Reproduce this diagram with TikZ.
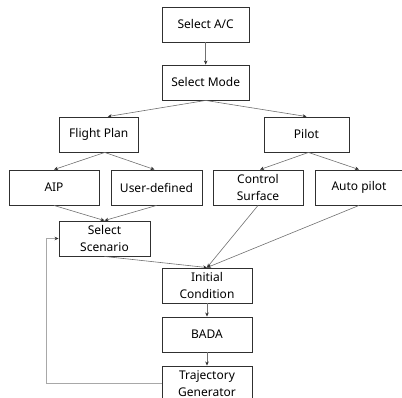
\documentclass[tikz,border=0pt]{standalone}
\usepackage{fontspec}
\setmainfont{Noto Sans}
\usetikzlibrary{arrows.meta,calc}
\definecolor{boxc}{HTML}{303030}
\definecolor{arrc}{HTML}{707070}
\definecolor{fbc}{HTML}{A8A8A8}
\begin{document}
\begin{tikzpicture}[x=1pt,y=-1pt,
  box/.style={draw=boxc, line width=0.9pt, minimum height=35pt, inner sep=0pt,
    align=center, font=\fontsize{12}{16.5}\selectfont, text=black},
  arr/.style={draw=arrc, line width=0.6pt, -{Stealth[length=4pt,width=3.5pt,color=boxc]}},
  fb/.style={draw=fbc, line width=1.2pt, -{Stealth[length=4pt,width=3.5pt,color=boxc]}}]
\useasboundingbox (0,0) rectangle (402,398);
\node[box, minimum width=87pt] (sac) at (205.7,24.5) {Select A/C};
\node[box, minimum width=87pt] (smode) at (205.7,82.5) {Select Mode};
\node[box, minimum width=79pt] (fp) at (98.8,134.5) {Flight Plan};
\node[box, minimum width=85pt] (pilot) at (306.5,134.5) {Pilot};
\node[box, minimum width=90pt] (aip) at (54,187.5) {AIP};
\node[box, minimum width=91pt] (ud) at (156.5,187.5) {User-defined};
\node[box, minimum width=90pt] (cs) at (258,187.5) {Control\\Surface};
\node[box, minimum width=88pt] (ap) at (359,187.5) {Auto pilot};
\node[box, minimum width=91pt] (ss) at (104.5,238.5) {Select\\Scenario};
\node[box, minimum width=90pt] (ic) at (207,285.5) {Initial\\Condition};
\node[box, minimum width=90pt] (bada) at (207,334.5) {BADA};
\node[box, minimum width=90pt] (tg) at (207,383.5) {Trajectory\\Generator};
\draw[arr] (sac.south) -- (smode.north);
\draw[arr] (smode.south) -- ([xshift=9pt]fp.north);
\draw[arr] (smode.south) -- (pilot.north);
\draw[arr] ([xshift=6pt]fp.south) -- (aip.north);
\draw[arr] ([xshift=6pt]fp.south) -- ([xshift=-2pt]ud.north);
\draw[arr] ([xshift=2pt]pilot.south) -- ([xshift=2pt]cs.north);
\draw[arr] ([xshift=2pt]pilot.south) -- (ap.north);
\draw[arr] (aip.south) -- (ss.north);
\draw[arr] (ud.south) -- (ss.north);
\draw[arr] (ss.south) -- (ic.north);
\draw[arr] (cs.south) -- (ic.north);
\draw[arr] (ap.south) -- (ic.north);
\draw[arr] (ic.south) -- (bada.north);
\draw[arr] (bada.south) -- (tg.north);
\draw[fb] (tg.west) -| ($(ss.west)+(-12,0)$) -- (ss.west);
\end{tikzpicture}
\end{document}
